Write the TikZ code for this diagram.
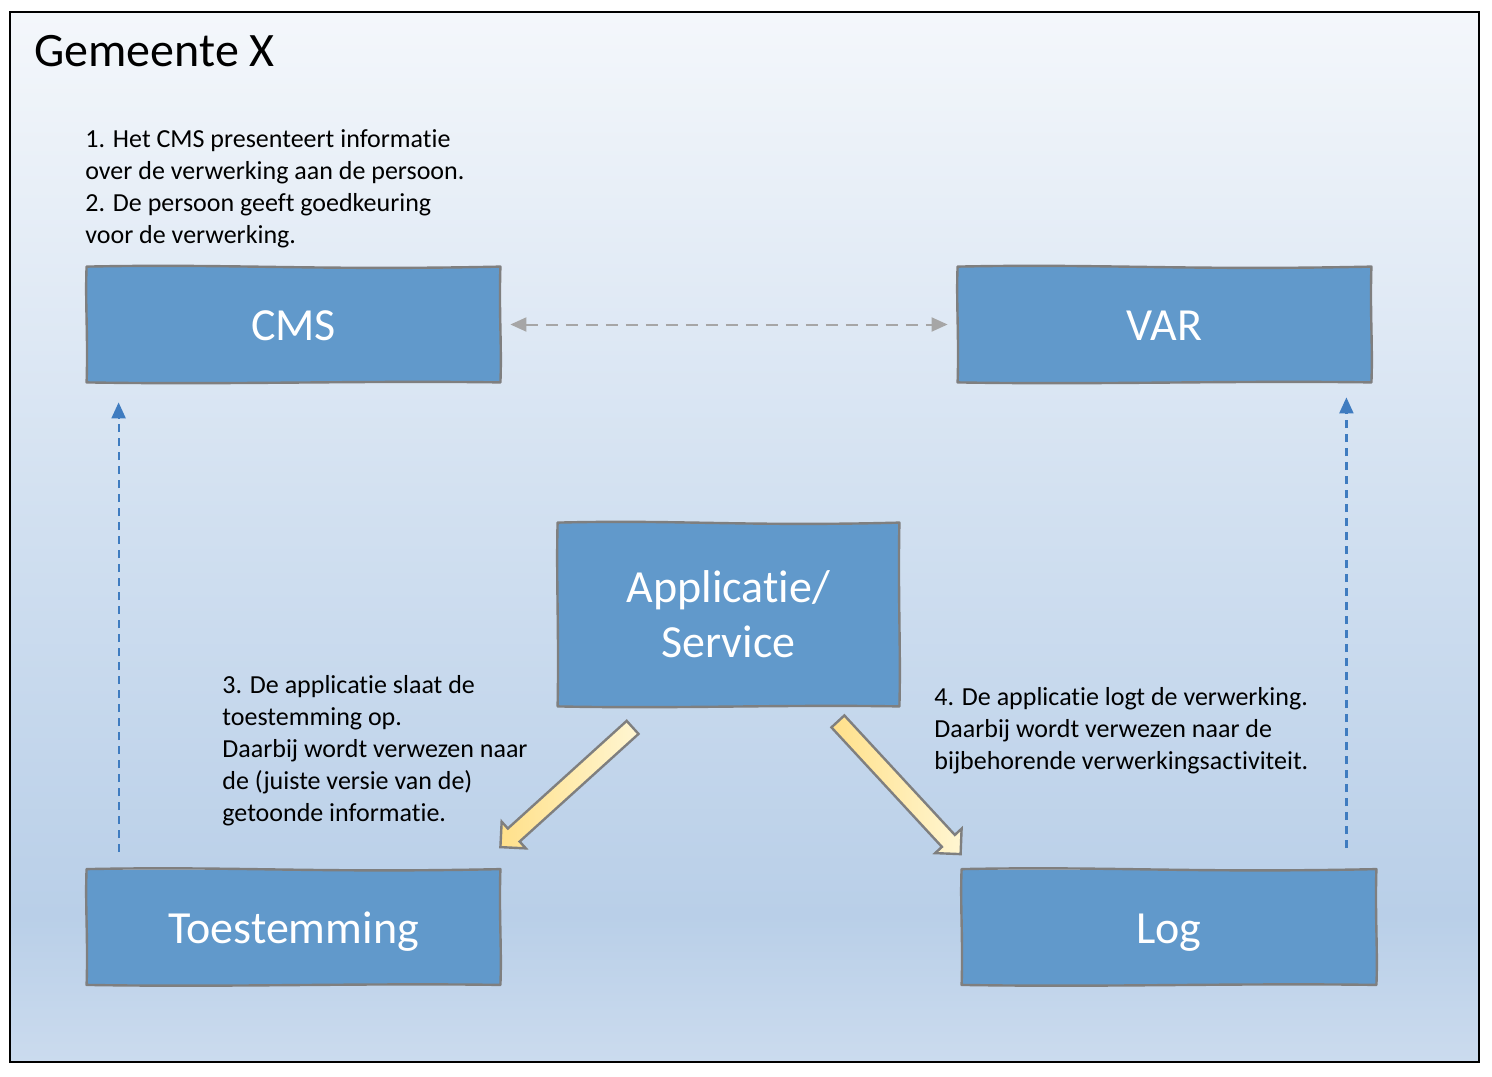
\documentclass[tikz,border=0pt]{standalone}
\usepackage{fontspec}
\setmainfont{Carlito}[Ligatures=NoCommon]
\usetikzlibrary{arrows.meta,calc}
\definecolor{boxfill}{HTML}{6199CB}
\definecolor{boxline}{HTML}{7F7F7F}
\definecolor{bgtop}{HTML}{F4F7FB}
\definecolor{bgmid}{HTML}{D0DFF0}
\definecolor{bgdark}{HTML}{B9CFE8}
\definecolor{bgbot}{HTML}{CBDBEE}
\definecolor{dashgray}{HTML}{A6A6A6}
\definecolor{dashblue}{HTML}{3F7CC0}
\definecolor{yelA}{HTML}{FFE08A}
\definecolor{yelB}{HTML}{FFF6D2}
\pgfdeclareverticalshading{bgshade}{100bp}{color(0bp)=(bgbot); color(25bp)=(bgbot); color(32bp)=(bgdark); color(50bp)=(bgmid); color(75bp)=(bgtop); color(100bp)=(bgtop)}
\tikzset{
  mainbox/.style={fill=boxfill, text=white,
    font=\fontsize{23}{27.5}\selectfont, align=center, inner sep=0pt},
  oneline/.style={text height=16.3pt, text depth=0pt},
  sketchline/.style={draw=boxline, line width=1.2pt, line join=round},
  bodytext/.style={font=\fontsize{13}{16}\selectfont, align=left, anchor=north west, inner sep=0pt},
  graydash/.style={draw=dashgray, line width=1pt, dash pattern=on 6pt off 4pt,
    {Triangle[length=8pt,width=7pt]}-{Triangle[length=8pt,width=7pt]}},
  bluedash/.style={draw=dashblue, line width=1.1pt, dash pattern=on 4pt off 3pt,
    -{Triangle[length=8pt,width=7pt]}},
  blockarrow/.style={draw=boxline, line width=1.2pt, left color=yelA, right color=yelB, line join=miter},
}
\newcommand\mysketchborder[1]{%
  \draw[sketchline] (#1.north west)
    .. controls ($(#1.north west)!0.35!(#1.north east)+(0,-3)$) and ($(#1.north west)!0.55!(#1.north east)+(0,4)$) .. (#1.north east)
    .. controls ($(#1.north east)!0.4!(#1.south east)+(-1.5,0)$) and ($(#1.north east)!0.7!(#1.south east)+(1.5,0)$) .. (#1.south east)
    .. controls ($(#1.south east)!0.35!(#1.south west)+(0,-2)$) and ($(#1.south east)!0.65!(#1.south west)+(0,2.5)$) .. (#1.south west)
    .. controls ($(#1.south west)!0.4!(#1.north west)+(1.5,0)$) and ($(#1.south west)!0.7!(#1.north west)+(-1.5,0)$) .. cycle;}
\begin{document}
\begin{tikzpicture}[x=0.5pt,y=-0.5pt]
\useasboundingbox (0,0) rectangle (1492,1076);
\shade[shading=bgshade] (10,12) rectangle (1479,1062);
\draw[black, line width=1pt] (10,12) rectangle (1479,1062);

\node[anchor=north west, inner sep=0pt, font=\fontsize{24}{28}\selectfont] (title) at (34,35) {Gemeente X};

\node[bodytext] (t1) at (85,129) {1. Het CMS presenteert informatie\\over de verwerking aan de persoon.\\2. De persoon geeft goedkeuring\\voor de verwerking.};
\node[bodytext] (t3) at (222,675) {3. De applicatie slaat de\\toestemming op.\\Daarbij wordt verwezen naar\\de (juiste versie van de)\\getoonde informatie.};
\node[bodytext] (t4) at (934,687) {4. De applicatie logt de verwerking.\\Daarbij wordt verwezen naar de\\bijbehorende verwerkingsactiviteit.};

\node[mainbox, oneline, minimum width=206.5pt, minimum height=57.5pt] (cms) at (293.5,324.5) {CMS};
\node[mainbox, oneline, minimum width=206.5pt, minimum height=57.5pt] (var) at (1164.5,324.5) {VAR};
\node[mainbox, minimum width=170.5pt, minimum height=91.5pt] (app) at (728.5,614.5) {Applicatie/\\Service};
\node[mainbox, oneline, minimum width=206.5pt, minimum height=57.5pt] (toest) at (293.5,927) {Toestemming};
\node[mainbox, oneline, minimum width=207pt, minimum height=57.5pt] (log) at (1169,927) {Log};
\mysketchborder{cms}
\mysketchborder{var}
\mysketchborder{app}
\mysketchborder{toest}
\mysketchborder{log}

\draw[graydash, shorten <=5pt, shorten >=5pt] (cms.east) -- (var.west);
\draw[bluedash, shorten <=8.5pt, shorten >=10pt] ([xshift=16pt]toest.north west) -- ([xshift=16pt]cms.south west);
\draw[bluedash, shorten <=10.5pt, shorten >=7.5pt] ([xshift=-15pt]log.north east) -- ([xshift=-12.5pt]var.south east);

% block arrows
\coordinate (s1) at ($(app.south west)+(75,21)$);
\coordinate (e1) at ($(toest.north east)+(0,-22)$);
\coordinate (h1) at ($(e1)!9pt!(s1)$);
\path[blockarrow] ($(s1)!4.4pt!90:(e1)$) -- ($(h1)!4.4pt!-90:(s1)$) -- ($(h1)!9pt!-90:(s1)$) -- (e1)
  -- ($(h1)!9pt!90:(s1)$) -- ($(h1)!4.4pt!90:(s1)$) -- ($(s1)!4.4pt!-90:(e1)$) -- cycle;
\coordinate (s2) at ($(app.south east)+(-61.5,15)$);
\coordinate (e2) at ($(log.north west)+(-1,-15)$);
\coordinate (h2) at ($(e2)!9pt!(s2)$);
\path[blockarrow] ($(s2)!4.4pt!90:(e2)$) -- ($(h2)!4.4pt!-90:(s2)$) -- ($(h2)!9pt!-90:(s2)$) -- (e2)
  -- ($(h2)!9pt!90:(s2)$) -- ($(h2)!4.4pt!90:(s2)$) -- ($(s2)!4.4pt!-90:(e2)$) -- cycle;
\end{tikzpicture}
\end{document}
